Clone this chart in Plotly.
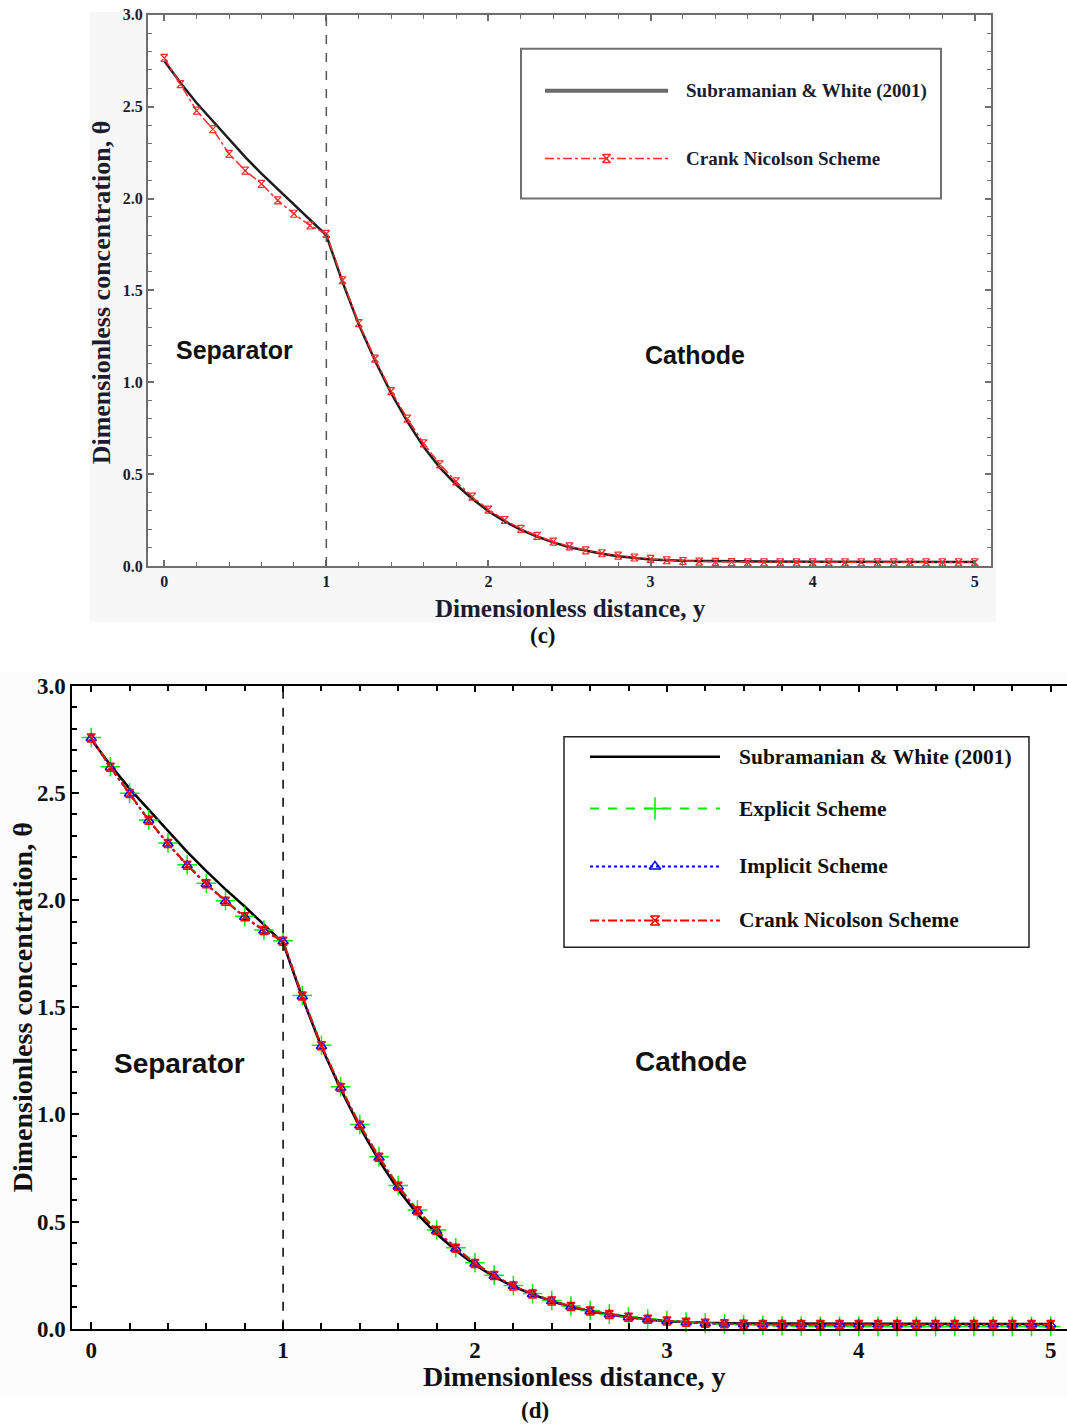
import plotly.graph_objects as go

W, H = 1067, 1426

# ---------------------------------------------------------------------------
# Data
# ---------------------------------------------------------------------------
# Subramanian & White (2001) analytical profile
sw_y = [0.0, 0.1, 0.2, 0.3, 0.4, 0.5, 0.6, 0.7, 0.8, 0.9, 1.0,
        1.1, 1.2, 1.3, 1.4, 1.5, 1.6, 1.7, 1.8, 1.9, 2.0,
        2.1, 2.2, 2.3, 2.4, 2.5, 2.6, 2.7, 2.8, 2.9, 3.0,
        3.2, 3.4, 3.7, 4.0, 4.5, 5.0]
sw_theta = [2.750, 2.630, 2.520, 2.420, 2.320, 2.225, 2.135, 2.050, 1.970, 1.885, 1.800,
            1.545, 1.315, 1.118, 0.940, 0.785, 0.648, 0.535, 0.443, 0.365, 0.298,
            0.243, 0.197, 0.160, 0.128, 0.102, 0.082, 0.066, 0.053, 0.043, 0.035,
            0.028, 0.025, 0.024, 0.023, 0.022, 0.022]

# grid of the finite-difference solutions
fd_y = [0.0, 0.1, 0.2, 0.3, 0.4, 0.5, 0.6, 0.7, 0.8, 0.9,
        1.0, 1.1, 1.2, 1.3, 1.4, 1.5, 1.6, 1.7, 1.8, 1.9,
        2.0, 2.1, 2.2, 2.3, 2.4, 2.5, 2.6, 2.7, 2.8, 2.9,
        3.0, 3.1, 3.2, 3.3, 3.4, 3.5, 3.6, 3.7, 3.8, 3.9,
        4.0, 4.1, 4.2, 4.3, 4.4, 4.5, 4.6, 4.7, 4.8, 4.9, 5.0]

# panel (c): Crank Nicolson scheme
cn_c = [2.765, 2.623, 2.478, 2.378, 2.243, 2.152, 2.080, 1.990, 1.917, 1.853,
        1.808, 1.555, 1.322, 1.128, 0.952, 0.802, 0.667, 0.553, 0.460, 0.377,
        0.307, 0.250, 0.202, 0.164, 0.132, 0.106, 0.085, 0.069, 0.056, 0.046,
        0.038, 0.031, 0.027, 0.024, 0.022, 0.021, 0.020, 0.020, 0.020, 0.020,
        0.020, 0.020, 0.020, 0.020, 0.020, 0.020, 0.020, 0.020, 0.020, 0.020, 0.020]

# panel (d): three schemes
explicit_d = [2.758, 2.622, 2.499, 2.374, 2.266, 2.165, 2.078, 1.997, 1.924, 1.860,
              1.810, 1.555, 1.323, 1.129, 0.953, 0.803, 0.668, 0.554, 0.461, 0.378,
              0.308, 0.250, 0.202, 0.164, 0.132, 0.106, 0.085, 0.068, 0.055, 0.045,
              0.037, 0.031, 0.026, 0.022, 0.019, 0.016, 0.014, 0.013, 0.012, 0.012,
              0.011, 0.011, 0.011, 0.011, 0.011, 0.011, 0.011, 0.011, 0.011, 0.011, 0.011]
implicit_d = [2.755, 2.619, 2.496, 2.371, 2.263, 2.162, 2.075, 1.994, 1.921, 1.857,
              1.807, 1.550, 1.318, 1.124, 0.948, 0.798, 0.663, 0.549, 0.456, 0.373,
              0.303, 0.246, 0.199, 0.161, 0.129, 0.103, 0.082, 0.066, 0.053, 0.043,
              0.035, 0.029, 0.025, 0.023, 0.021, 0.020, 0.020, 0.020, 0.020, 0.020,
              0.020, 0.020, 0.020, 0.020, 0.020, 0.020, 0.020, 0.020, 0.020, 0.020, 0.020]
cn_d = [2.756, 2.620, 2.497, 2.372, 2.264, 2.163, 2.076, 1.995, 1.922, 1.858,
        1.808, 1.552, 1.320, 1.126, 0.950, 0.800, 0.665, 0.551, 0.458, 0.375,
        0.305, 0.248, 0.200, 0.162, 0.130, 0.104, 0.083, 0.067, 0.054, 0.044,
        0.036, 0.030, 0.026, 0.023, 0.021, 0.020, 0.020, 0.020, 0.020, 0.020,
        0.020, 0.020, 0.020, 0.020, 0.020, 0.020, 0.020, 0.020, 0.020, 0.020, 0.020]

x_ticks = [0, 1, 2, 3, 4, 5]
y_ticks = [0.0, 0.5, 1.0, 1.5, 2.0, 2.5, 3.0]
separator_y = 1.0

SERIF = "Liberation Serif"
SANS = "Liberation Sans"

# page-pixel helpers (vertical positions carry a small offset/scale correction
# for how the page is framed on screen)
Y_OFF, Y_SC = 11.2, 0.984


def px(x):
    return x / W


def py(y):
    f = 1 - ((y - Y_OFF) / Y_SC) / H
    return max(0.0, min(1.0, f))


fig = go.Figure()

# ---------------------------------------------------------------------------
# Panel (c)
# ---------------------------------------------------------------------------
fig.add_trace(go.Scatter(
    x=sw_y, y=sw_theta, mode="lines", xaxis="x", yaxis="y",
    line=dict(color="#1e1e1e", width=2.5), showlegend=False, cliponaxis=False))
fig.add_trace(go.Scatter(
    x=fd_y, y=cn_c, mode="lines+markers", xaxis="x", yaxis="y",
    line=dict(color="#ff2a2a", width=1.5, dash="dashdot"),
    marker=dict(symbol="hourglass-open", size=7, color="#ff2a2a", line=dict(width=1.2)),
    showlegend=False, cliponaxis=False))

# ---------------------------------------------------------------------------
# Panel (d)
# ---------------------------------------------------------------------------
fig.add_trace(go.Scatter(
    x=sw_y, y=sw_theta, mode="lines", xaxis="x2", yaxis="y2",
    line=dict(color="black", width=2.5), showlegend=False, cliponaxis=False))
fig.add_trace(go.Scatter(
    x=fd_y, y=explicit_d, mode="lines+markers", xaxis="x2", yaxis="y2",
    line=dict(color="#00ee00", width=2, dash="dash"),
    marker=dict(symbol="cross-thin-open", size=14, color="#00ee00", line=dict(width=1.5)),
    showlegend=False, cliponaxis=False))
fig.add_trace(go.Scatter(
    x=fd_y, y=implicit_d, mode="lines+markers", xaxis="x2", yaxis="y2",
    line=dict(color="#0000ff", width=2, dash="dot"),
    marker=dict(symbol="triangle-up-open", size=9, color="#0000ff", line=dict(width=1.5)),
    showlegend=False, cliponaxis=False))
fig.add_trace(go.Scatter(
    x=fd_y, y=cn_d, mode="lines+markers", xaxis="x2", yaxis="y2",
    line=dict(color="#ff0000", width=2, dash="dashdot"),
    marker=dict(symbol="hourglass-open", size=8, color="#ff0000", line=dict(width=1.5)),
    showlegend=False, cliponaxis=False))

# ---------------------------------------------------------------------------
# Hand-drawn legends: line samples as shapes, centre markers on a paper overlay
# ---------------------------------------------------------------------------
legend_c = [
    dict(name="Subramanian & White (2001)", color="#6a6a6a", width=4, dash="solid", symbol=None, y=90),
    dict(name="Crank Nicolson Scheme", color="#ff2a2a", width=1.5, dash="dashdot",
         symbol="hourglass-open", size=8, y=158),
]
legend_d = [
    dict(name="Subramanian & White (2001)", color="black", width=2.5, dash="solid", symbol=None, y=757),
    dict(name="Explicit Scheme", color="#00ee00", width=2, dash="dash", symbol="cross-thin-open", size=16, y=809),
    dict(name="Implicit Scheme", color="#0000ff", width=2, dash="dot", symbol="triangle-up-open", size=10, y=867),
    dict(name="Crank Nicolson Scheme", color="#ff0000", width=2, dash="dashdot", symbol="hourglass-open", size=9, y=921),
]

shapes = []
annotations = []

# page backgrounds
shapes.append(dict(type="rect", xref="paper", yref="paper", layer="below",
                   x0=px(90), x1=px(996), y0=py(0), y1=py(622),
                   fillcolor="#f7f7f7", line=dict(width=0)))
shapes.append(dict(type="rect", xref="paper", yref="paper", layer="below",
                   x0=px(148), x1=px(991), y0=py(14), y1=py(566),
                   fillcolor="#ffffff", line=dict(width=0)))
shapes.append(dict(type="rect", xref="paper", yref="paper", layer="below",
                   x0=0, x1=1, y0=py(672), y1=py(1398),
                   fillcolor="#fcfcfc", line=dict(width=0)))
shapes.append(dict(type="rect", xref="paper", yref="paper", layer="below",
                   x0=px(72), x1=1, y0=py(686), y1=py(1330),
                   fillcolor="#ffffff", line=dict(width=0)))

# separator / cathode boundary
shapes.append(dict(type="line", xref="x", yref="y domain", x0=separator_y, x1=separator_y,
                   y0=0, y1=1, line=dict(color="#555555", width=1.5, dash="dash")))
shapes.append(dict(type="line", xref="x2", yref="y2 domain", x0=separator_y, x1=separator_y,
                   y0=0, y1=1, line=dict(color="black", width=1.5, dash="dash")))

# legend boxes
shapes.append(dict(type="rect", xref="paper", yref="paper",
                   x0=px(521), x1=px(941), y0=py(48), y1=py(198),
                   line=dict(color="#707070", width=2), fillcolor="rgba(255,255,255,0)"))
shapes.append(dict(type="rect", xref="paper", yref="paper",
                   x0=px(564), x1=px(1029), y0=py(737), y1=py(948),
                   line=dict(color="#222222", width=1.5), fillcolor="rgba(255,255,255,0)"))


def draw_legend(entries, x0, x1, xtext, font_size, font_color):
    for e in entries:
        shapes.append(dict(type="line", xref="paper", yref="paper",
                           x0=px(x0), x1=px(x1), y0=py(e["y"]), y1=py(e["y"]),
                           line=dict(color=e["color"], width=e["width"], dash=e["dash"])))
        if e["symbol"]:
            fig.add_trace(go.Scatter(
                x=[px((x0 + x1) / 2)], y=[py(e["y"])], mode="markers",
                xaxis="x3", yaxis="y3",
                marker=dict(symbol=e["symbol"], size=e["size"], color=e["color"],
                            line=dict(width=1.5)),
                showlegend=False, hoverinfo="skip", cliponaxis=False))
        annotations.append(dict(xref="paper", yref="paper", x=px(xtext), y=py(e["y"]),
                                xanchor="left", yanchor="middle", showarrow=False,
                                text=e["name"],
                                font=dict(family=SERIF, size=font_size, color=font_color,
                                          weight="bold")))


draw_legend(legend_c, 545, 668, 684, 19, "#1c1c30")
draw_legend(legend_d, 590, 720, 737, 21.5, "#111111")

# region labels
for txt, x, y, size in [("Separator", 234, 350, 25), ("Cathode", 695, 355, 25),
                        ("Separator", 179, 1064, 28), ("Cathode", 691, 1062, 28)]:
    annotations.append(dict(xref="paper", yref="paper", x=px(x), y=py(y), showarrow=False,
                            xanchor="center", yanchor="middle", text=txt,
                            font=dict(family=SANS, size=size, color="#111111", weight="bold")))

# axis titles and panel captions
for txt, x, y, size, ang, col in [
        ("Dimensionless distance, y", 570, 609, 25, 0, "#1c1c30"),
        ("Dimensionless concentration, θ", 101, 292, 26, -90, "#1c1c30"),
        ("(c)", 543, 636, 23, 0, "#111111"),
        ("Dimensionless distance, y", 574, 1378, 28, 0, "#111111"),
        ("Dimensionless concentration, θ", 22, 1008, 28, -90, "#111111"),
        ("(d)", 535, 1412, 23, 0, "#111111")]:
    annotations.append(dict(xref="paper", yref="paper", x=px(x), y=py(y), showarrow=False,
                            xanchor="center", yanchor="middle", text=txt, textangle=ang,
                            font=dict(family=SERIF, size=size, color=col, weight="bold")))

# ---------------------------------------------------------------------------
# Axes
# ---------------------------------------------------------------------------
c_axis_col = "#6e6e6e"
common_c = dict(showgrid=False, zeroline=False, showline=True, linecolor=c_axis_col,
                linewidth=2, mirror="ticks", ticks="inside", tickcolor=c_axis_col,
                ticklen=6, tickwidth=1.5,
                tickfont=dict(family=SERIF, size=16, color="#1c1c30", weight="bold"))
common_d = dict(showgrid=False, zeroline=False, showline=True, linecolor="black",
                linewidth=1.5, ticks="inside", tickcolor="black",
                ticklen=7, tickwidth=1.5,
                tickfont=dict(family=SERIF, size=23, color="#111111", weight="bold"))

fig.update_layout(
    width=W, height=H, margin=dict(l=0, r=0, t=0, b=0),
    paper_bgcolor="white", plot_bgcolor="rgba(0,0,0,0)",
    showlegend=False,
    xaxis=dict(domain=[px(148), px(991)], anchor="y", range=[-0.1, 5.1],
               tickmode="array", tickvals=x_ticks,
               minor=dict(dtick=0.2, tick0=0, ticks="inside", ticklen=4,
                          tickcolor=c_axis_col, tickwidth=1.2, showgrid=False),
               **common_c),
    yaxis=dict(domain=[py(566), py(14)], anchor="x", range=[0, 3],
               tickmode="array", tickvals=y_ticks, tickformat=".1f",
               minor=dict(dtick=0.1, tick0=0, ticks="inside", ticklen=4,
                          tickcolor=c_axis_col, tickwidth=1.2, showgrid=False),
               **common_c),
    xaxis2=dict(domain=[px(72), 1.0], anchor="y2", range=[-0.1, 5.085],
                tickmode="array", tickvals=x_ticks, mirror="ticks",
                minor=dict(dtick=0.2, tick0=0, ticks="inside", ticklen=6,
                           tickcolor="black", tickwidth=1.5, showgrid=False),
                **common_d),
    yaxis2=dict(domain=[py(1330), py(686)], anchor="x2", range=[0, 3],
                tickmode="array", tickvals=y_ticks, tickformat=".1f", mirror=False,
                minor=dict(dtick=0.1, tick0=0, ticks="inside", ticklen=5,
                           tickcolor="black", tickwidth=1.5, showgrid=False),
                **common_d),
    # paper-space overlay used for legend sample markers
    xaxis3=dict(domain=[0, 1], anchor="y3", range=[0, 1], visible=False, fixedrange=True),
    yaxis3=dict(domain=[0, 1], anchor="x3", range=[0, 1], visible=False, fixedrange=True),
    shapes=shapes,
    annotations=annotations,
)

fig.write_html("out.html")
